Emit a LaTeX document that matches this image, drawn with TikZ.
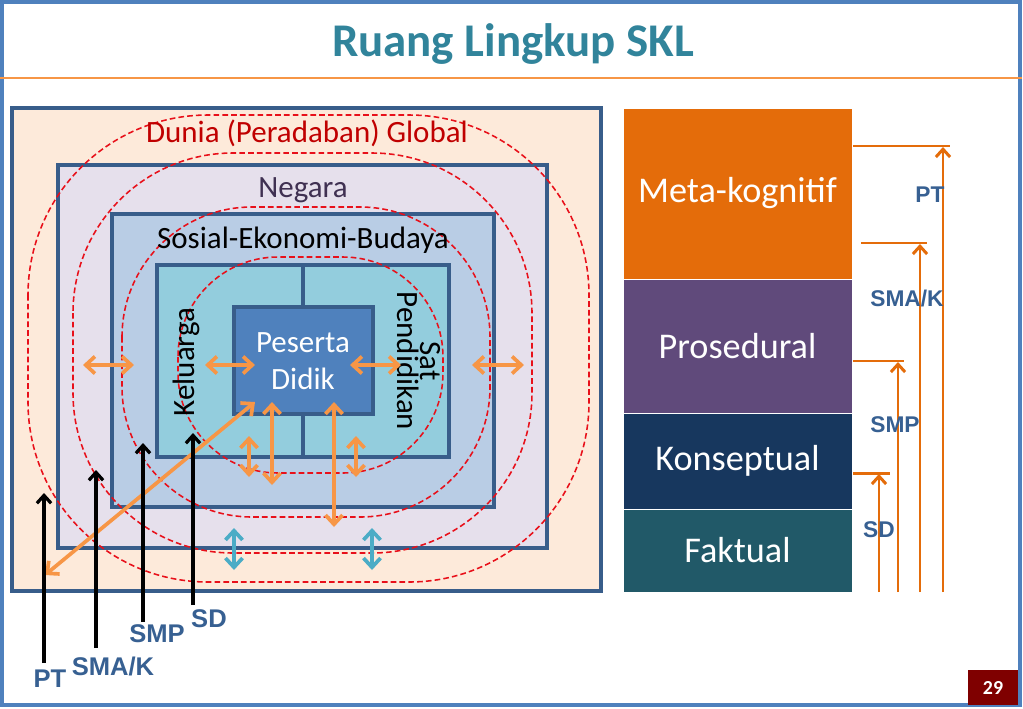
\documentclass[tikz,border=0pt]{standalone}
\usepackage{fontspec}
\setmainfont{Carlito}
\newfontfamily\lvlfont{Liberation Sans}
\usetikzlibrary{arrows.meta}
\newcommand{\px}{0.704pt}
\newcommand{\fs}[2]{\fontsize{#1}{#2}\selectfont}
\definecolor{skltitle}{HTML}{31849B}
\definecolor{slideframe}{HTML}{4F81BD}
\definecolor{titlerule}{HTML}{F79646}
\definecolor{edge}{HTML}{385D8A}
\definecolor{dunia}{HTML}{FDEADA}
\definecolor{negara}{HTML}{E6E0EC}
\definecolor{sosial}{HTML}{B9CDE5}
\definecolor{keluarga}{HTML}{93CDDD}
\definecolor{didik}{HTML}{4F81BD}
\definecolor{linkc}{HTML}{F79646}
\definecolor{tosca}{HTML}{4BACC6}
\definecolor{ringc}{HTML}{E8101A}
\definecolor{lvlc}{HTML}{376092}
\definecolor{meta}{HTML}{E46C0A}
\definecolor{prosed}{HTML}{604A7B}
\definecolor{konsep}{HTML}{17375E}
\definecolor{faktual}{HTML}{215968}
\definecolor{pagebox}{HTML}{7F0000}
\definecolor{dunialbl}{HTML}{C00000}
\definecolor{negaralbl}{HTML}{403152}

\begin{document}
\begin{tikzpicture}[x=0.704pt,y=-0.704pt,
  area/.style={draw=edge,line width=2.2pt},
  ring/.style={draw=ringc,line width=1.1pt,dash pattern=on 4pt off 2.2pt},
  link/.style={draw=linkc,line width=2.6pt,
    {Straight Barb[length=6.5pt,width=12pt]}-{Straight Barb[length=6.5pt,width=12pt]}},
  tlink/.style={draw=tosca,line width=2.6pt,
    {Straight Barb[length=6.5pt,width=12pt]}-{Straight Barb[length=6.5pt,width=12pt]}},
  lvlarrow/.style={draw=black,line width=2.3pt,-{Straight Barb[length=5.5pt,width=10pt]}},
  tick/.style={draw=meta,line width=2.1pt},
  tickarrow/.style={draw=meta,line width=2.1pt,-{Straight Barb[length=5.5pt,width=10pt]}},
  lvlbox/.style={minimum width=229*\px,minimum height=#1*\px,inner sep=0pt,
    text=white,font=\fs{25.5}{30},draw=white,line width=0.6pt},
  lvllbl/.style={text=lvlc,inner sep=0pt,font=\lvlfont\bfseries\fs{#1}{#1}},
  ctx/.style={inner sep=0pt,font=\fs{21.8}{26}}]
  \useasboundingbox (0,0) rectangle (1023,708);
  \fill[white] (0,0) rectangle (1023,708);
  \draw[slideframe,line width=3pt] (2,2) rectangle (1020,705);
  \node[text=skltitle,font=\bfseries\fs{33}{40}] (title) at (513,44) {Ruang Lingkup SKL};
  \coordinate (rulea) at (0,78);
  \coordinate (ruleb) at (1022,78);
  \draw[titlerule,line width=1pt] (rulea) -- (ruleb);

  \draw[area,fill=dunia] (12,108) rectangle (601,591);
  \draw[area,fill=negara] (58,165) rectangle (547,548);
  \draw[area,fill=sosial] (112,214) rectangle (494,507);
  \draw[area,fill=keluarga] (157,265) rectangle (449,457);
  \draw[area] (303,265) -- (303,457);
  \draw[area,fill=didik] (234,307) rectangle (373,414);

  \draw[ring,rounded corners=180*\px] (28,115) rectangle (589,582);
  \draw[ring,rounded corners=160*\px] (73,153) rectangle (532,553);
  \draw[ring,rounded corners=130*\px] (122,207) rectangle (490,517);
  \draw[ring,rounded corners=100*\px] (178,257) rectangle (443,473);

  \node[ctx,text=dunialbl] (duniatxt) at (307,133) {Dunia (Peradaban) Global};
  \node[ctx,text=negaralbl] (negaratxt) at (303,190) {Negara};
  \node[ctx] (sosialtxt) at (303,240) {Sosial-Ekonomi-Budaya};
  \node[ctx,rotate=90] (keluargatxt) at (186,362) {Keluarga};
  \node[ctx,rotate=-90,align=center,font=\fs{21.8}{16.2}] (satdik) at (419,361) {Sat\\Pendidikan};
  \node[ctx,text=white,align=center] (peserta) at (303,361) {Peserta\\Didik};

  \coordinate (ha1) at (83,365);  \coordinate (hb1) at (134,365);
  \coordinate (ha2) at (205,365); \coordinate (hb2) at (255,365);
  \coordinate (ha3) at (350,365); \coordinate (hb3) at (401,365);
  \coordinate (ha4) at (472,365); \coordinate (hb4) at (524,365);
  \coordinate (va1) at (249,436); \coordinate (vb1) at (249,477);
  \coordinate (va2) at (272,402); \coordinate (vb2) at (272,485);
  \coordinate (va3) at (334,402); \coordinate (vb3) at (334,527);
  \coordinate (va4) at (356,436); \coordinate (vb4) at (356,477);
  \coordinate (diaga) at (255,402); \coordinate (diagb) at (45,575);
  \coordinate (ta1) at (234,528); \coordinate (tb1) at (234,570);
  \coordinate (ta2) at (372,528); \coordinate (tb2) at (372,570);
  \foreach \i in {1,...,4} {
    \draw[link] (ha\i) -- (hb\i);
    \draw[link] (va\i) -- (vb\i);
  }
  \draw[link] (diaga) -- (diagb);
  \draw[tlink] (ta1) -- (tb1);
  \draw[tlink] (ta2) -- (tb2);

  \node[lvllbl=18] (ptl) at (50,679) {PT};
  \node[lvllbl=18] (smal) at (113,666) {SMA/K};
  \node[lvllbl=18] (smpl) at (157,634) {SMP};
  \node[lvllbl=18] (sdl) at (209,619) {SD};
  \coordinate (pta) at (44,663);  \coordinate (ptb) at (44,493);
  \coordinate (smaa) at (96,648); \coordinate (smab) at (96,470);
  \coordinate (smpa) at (143,622); \coordinate (smpb) at (143,443);
  \coordinate (sda) at (193,605); \coordinate (sdb) at (193,433);
  \draw[lvlarrow] (pta) -- (ptb);
  \draw[lvlarrow] (smaa) -- (smab);
  \draw[lvlarrow] (smpa) -- (smpb);
  \draw[lvlarrow] (sda) -- (sdb);

  \node[lvlbox=171,fill=meta] (metak) at (737.5,193.5) {Meta-kognitif};
  \node[lvlbox=134,fill=prosed] (prosedural) at (737.5,346) {Prosedural};
  \node[lvlbox=96,fill=konsep] (konseptual) at (737.5,461) {Konseptual};
  \node[lvlbox=83,fill=faktual] (faktualb) at (737.5,550.5) {Faktual};

  \coordinate (rpt1) at (853,146); \coordinate (rpt2) at (950,146);
  \coordinate (rsma1) at (861,243); \coordinate (rsma2) at (927,243);
  \coordinate (rsmp1) at (853,361); \coordinate (rsmp2) at (904,361);
  \coordinate (rsd1) at (853,473); \coordinate (rsd2) at (890,473);
  \draw[tick] (rpt1) -- (rpt2);
  \draw[tick] (rsma1) -- (rsma2);
  \draw[tick] (rsmp1) -- (rsmp2);
  \draw[tick] (rsd1) -- (rsd2);
  \coordinate (upt) at (943,592);  \coordinate (tpt) at (943,147);
  \coordinate (usma) at (920,592); \coordinate (tsma) at (920,244);
  \coordinate (usmp) at (898,592); \coordinate (tsmp) at (898,362);
  \coordinate (usd) at (879,592);  \coordinate (tsd) at (879,474);
  \draw[tickarrow] (upt) -- (tpt);
  \draw[tickarrow] (usma) -- (tsma);
  \draw[tickarrow] (usmp) -- (tsmp);
  \draw[tickarrow] (usd) -- (tsd);
  \node[lvllbl=16] (rptl) at (930,195) {PT};
  \node[lvllbl=16] (rsmal) at (907,298) {SMA/K};
  \node[lvllbl=16] (rsmpl) at (895,425) {SMP};
  \node[lvllbl=16] (rsdl) at (879,530) {SD};

  \node[fill=pagebox,minimum width=50*\px,minimum height=35*\px,inner sep=0pt,
    text=white,font=\bfseries\fs{14}{16}] (page) at (993,687.5) {29};
\end{tikzpicture}
\end{document}
